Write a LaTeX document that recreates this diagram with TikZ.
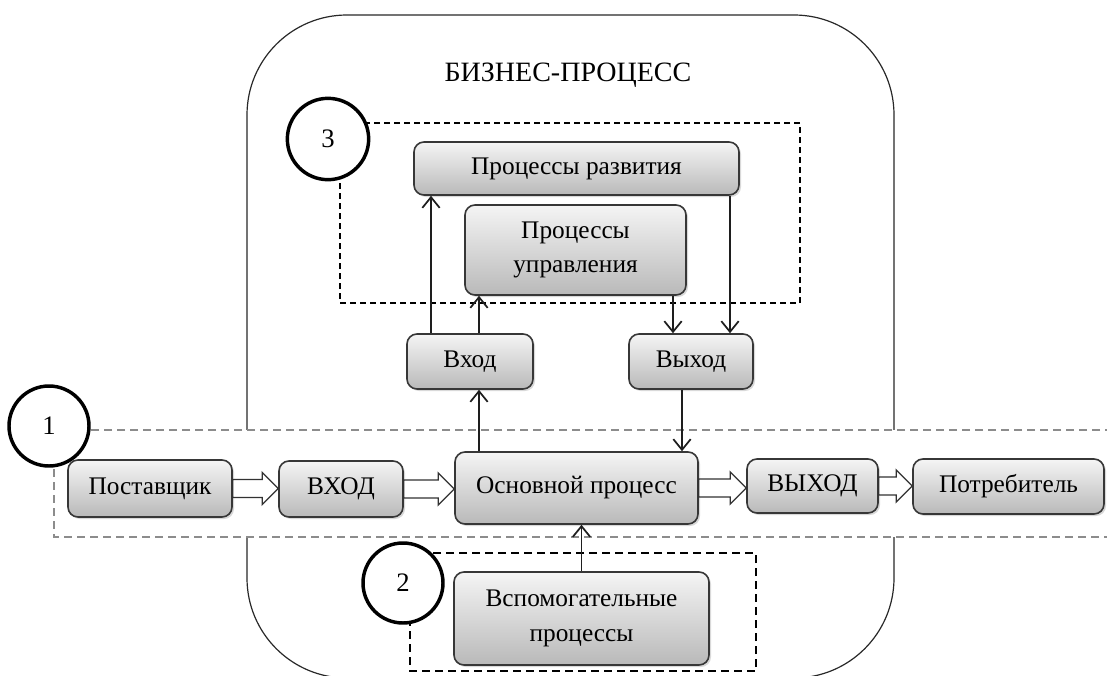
\documentclass[tikz,border=0pt]{standalone}
\usepackage{fontspec}
\setmainfont{Liberation Serif}
\usepackage{tikz}
\usetikzlibrary{arrows.meta,calc,shadows}

\begin{document}
\begin{tikzpicture}[x=0.75pt,y=0.75pt,yscale=-1,xscale=1,
  proc/.style={draw={rgb, 255:red, 55; green, 55; blue, 55},line width=1.2pt,rounded corners=7.5pt,
    top color=gray!8,bottom color=gray!55,align=center,inner sep=0pt,
    font=\fontsize{19}{26}\selectfont,
    drop shadow={opacity=0.3,shadow xshift=1.5pt,shadow yshift=-1.5pt}},
  marker/.style={circle,draw,line width=2.6pt,fill=white,minimum size=60pt,inner sep=0pt,font=\fontsize{20}{24}\selectfont},
  conn/.style={line width=1.4pt,draw={rgb, 255:red, 30; green, 30; blue, 30},
    -{Straight Barb[length=8pt,width=13pt,line width=1.3pt]}},
  blockarrow/.style={draw={rgb, 255:red, 50; green, 50; blue, 50},line width=1pt,fill=white,line join=miter},
  zone/.style={line width=1.1pt,dash pattern=on 6pt off 3.75pt}
]
\clip (0,0) rectangle (1107,675);

%Shape: Rounded Rect [business process]
\draw [line width=0.9pt,draw={rgb, 255:red, 40; green, 40; blue, 40},rounded corners=75pt] (247,15) rectangle (894,678) ;
% Text Node
\node (title) at (568,75) {\fontsize{21}{24}\selectfont БИЗНЕС-ПРОЦЕСС};

%Shape: Rectangle [zone 3]
\draw [zone,line width=0.9pt,dash pattern=on 4.5pt off 3pt] (340,123) rectangle (800,303) ;
\node [marker,minimum width=57pt,minimum height=61pt] (m3) at (328,139) {3};

%Shape: Rectangle [zone 1]
\draw [zone,fill=white,draw=gray!90,line width=1.5pt] (54,430) rectangle (1120,537) ;
\node [marker] (m1) at (49,426) {1};

%Shape: Rectangle [zone 2]
\draw [zone,line width=1.5pt] (410,553) rectangle (756,671) ;
\node [marker,minimum width=57pt] (m2) at (403,583) {2};

% Process blocks
\node [proc,minimum width=123pt,minimum height=42.75pt] (sup) at (150,488.5) {Поставщик};
\node [proc,minimum width=93pt,minimum height=42pt] (inA) at (341,489) {ВХОД};
\node [proc,minimum width=182.25pt,minimum height=54pt] (main) at (576.5,488) {Основной процесс};
\node [proc,minimum width=98.25pt,minimum height=40.5pt] (outA) at (812.5,486) {ВЫХОД};
\node [proc,minimum width=143.25pt,minimum height=41.25pt] (cons) at (1008.5,486.5) {Потребитель};
\node [proc,minimum width=94.5pt,minimum height=41.25pt] (inB) at (470,361.5) {Вход};
\node [proc,minimum width=93pt,minimum height=41.25pt] (outB) at (691,361.5) {Выход};
\node [proc,minimum width=165.75pt,minimum height=67.5pt] (ctrl) at (575.5,250) {Процессы\\управления};
\node [proc,minimum width=243.75pt,minimum height=39.75pt] (dev) at (576.5,168.5) {Процессы развития};
\node [proc,minimum width=191.25pt,minimum height=69.75pt] (aux) at (581.5,618.5) {Вспомогательные\\процессы};

%Block Arrows
\foreach \a/\b in {sup/inA,inA/main,main/outA,outA/cons}{
  \coordinate (tip) at (\b.west |- \a.east);
  \draw [blockarrow] ($(\a.east)+(0,-9)$) -- ($(tip)+(-16,-9)$) -- ($(tip)+(-16,-16)$) -- (tip)
    -- ($(tip)+(-16,16)$) -- ($(tip)+(-16,9)$) -- ($(\a.east)+(0,9)$) -- cycle ;
}

%Straight Lines
\coordinate (inBl) at ($(inB.north)+(-39,0)$);
\coordinate (inBr) at ($(inB.north)+(9,0)$);
\coordinate (inBs) at ($(inB.south)+(9,0)$);
\coordinate (outBl) at ($(outB.north)+(-18,0)$);
\coordinate (outBr) at ($(outB.north)+(39,0)$);
\coordinate (outBs) at ($(outB.south)+(-9,0)$);
\draw [conn] (inBl) -- (inBl |- dev.south) ;
\draw [conn] (inBr) -- (inBr |- ctrl.south) ;
\draw [conn] (ctrl.south -| outBl) -- (outBl) ;
\draw [conn] (dev.south -| outBr) -- (outBr) ;
\draw [conn] (inBs |- main.north) -- (inBs) ;
\draw [conn] (outBs) -- (outBs |- main.north) ;
\draw [conn] (aux.north) -- (aux.north |- main.south) ;

\end{tikzpicture}
\end{document}
